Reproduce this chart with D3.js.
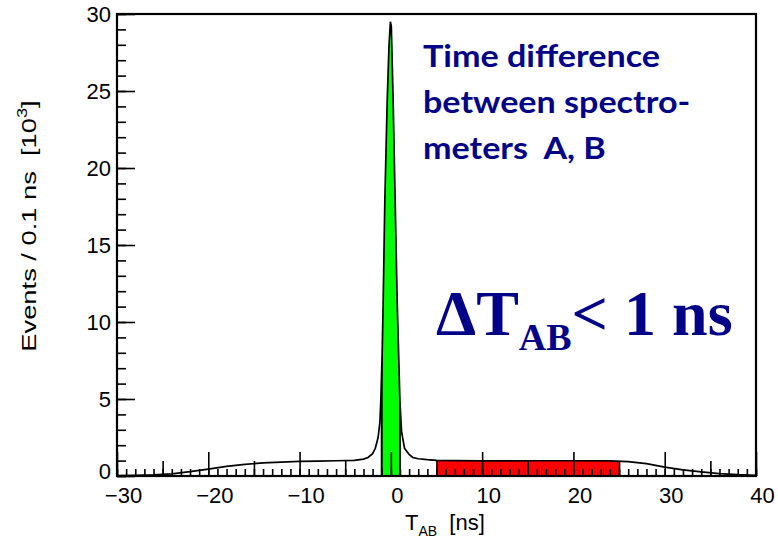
<!DOCTYPE html>
<html>
<head>
<meta charset="utf-8">
<script src="https://cdn.jsdelivr.net/npm/d3@7"></script>
<style>
  body { margin: 0; background: #fff; }
  text { font-family: "Liberation Sans", Arial, Helvetica, sans-serif; }
</style>
</head>
<body>
<div id="chart"></div>
<script>
// time difference T_AB [ns] and counts per 0.1 ns bin [10^3]
var tAB = [-30, -28, -26, -24, -22, -20, -18, -16, -14, -12, -10, -8, -6, -4, -3, -2.5, -2, -1.7, -1.4,
           -1.2, -1.1, -0.95, -0.84, -0.66, -0.4, -0.2, -0.05, 0.05, 0.25, 0.47, 0.69, 0.99, 1.17, 1.5,
           2, 2.4, 3, 4, 5, 7, 10, 13, 16, 20, 24, 26, 28, 30, 32, 34, 36, 38, 40];
var events = [0.02, 0.04, 0.07, 0.14, 0.28, 0.45, 0.62, 0.75, 0.85, 0.9, 0.95, 0.97, 0.99, 1.02, 1.1, 1.2, 1.45, 1.8, 2.5,
              3.5, 4.9, 8, 11.4, 17.9, 24.4, 28, 29.5, 29.2, 24.4, 17.9, 11.4, 4.9, 2.9, 1.8,
              1.4, 1.2, 1.12, 1.06, 1.02, 1.0, 0.98, 0.98, 0.99, 0.99, 0.98, 0.93, 0.8, 0.58, 0.4, 0.27, 0.16, 0.09, 0.05];

var greenRange = [-1, 1];   // |dT| < 1 ns
var redRange = [5, 25];     // side band

var xMajor = [-30, -20, -10, 0, 10, 20, 30, 40];
var yMajor = [0, 5, 10, 15, 20, 25, 30];

var W = 778, H = 543;
var margin = {top: 14, right: 22, bottom: 67, left: 117};

var svg = d3.select("#chart").append("svg")
    .attr("width", W)
    .attr("height", H);

var x = d3.scaleLinear().domain([-30, 40]).range([margin.left, W - margin.right]);
var y = d3.scaleLinear().domain([0, 30]).range([H - margin.bottom, margin.top]);

var pts = tAB.map(function(t, i) { return [t, events[i]]; });

var area = d3.area()
    .x(function(d) { return x(d[0]); })
    .y0(y(0))
    .y1(function(d) { return y(d[1]); });

var line = d3.line()
    .x(function(d) { return x(d[0]); })
    .y(function(d) { return y(d[1]); });

// clip = area under the histogram
svg.append("clipPath").attr("id", "under")
  .append("path").attr("d", area(pts));

var fills = svg.append("g").attr("clip-path", "url(#under)");

fills.append("rect")
    .attr("x", x(redRange[0]))
    .attr("width", x(redRange[1]) - x(redRange[0]))
    .attr("y", y(30))
    .attr("height", y(0) - y(30))
    .attr("fill", "#ff0000");

fills.append("rect")
    .attr("x", x(greenRange[0]))
    .attr("width", x(greenRange[1]) - x(greenRange[0]))
    .attr("y", y(30))
    .attr("height", y(0) - y(30) + 4)
    .attr("fill", "#00ff00")
    .attr("stroke", "#000")
    .attr("stroke-width", 2);

svg.append("path")
    .attr("d", line(pts))
    .attr("fill", "none")
    .attr("stroke", "#000")
    .attr("stroke-width", 1.7);

// axes: ticks drawn inward, ROOT style
function noDomain(g) { g.select(".domain").remove(); }

svg.append("g")
    .attr("transform", "translate(0," + y(0) + ")")
    .call(d3.axisBottom(x).tickValues(d3.range(-30, 41, 1)).tickSize(-7).tickFormat(""))
    .call(noDomain);
svg.append("g")
    .attr("transform", "translate(0," + y(0) + ")")
    .call(d3.axisBottom(x).tickValues(d3.range(-25, 40, 10)).tickSize(-15).tickFormat(""))
    .call(noDomain);
var gx = svg.append("g")
    .attr("transform", "translate(0," + y(0) + ")")
    .call(d3.axisBottom(x).tickValues(xMajor).tickSize(-24).tickPadding(0)
      .tickFormat(function(d) { return d < 0 ? "\u2212" + Math.abs(d) : d; }))
    .call(noDomain);
gx.selectAll("text")
    .attr("y", 27)
    .attr("dy", 0)
    .attr("dx", 6)
    .attr("font-size", 22)
    .attr("fill", "#000");

svg.append("g")
    .attr("transform", "translate(" + x(-30) + ",0)")
    .call(d3.axisLeft(y).tickValues(d3.range(0, 31, 1)).tickSize(-9).tickFormat(""))
    .call(noDomain);
var gy = svg.append("g")
    .attr("transform", "translate(" + x(-30) + ",0)")
    .call(d3.axisLeft(y).tickValues(yMajor).tickSize(-18).tickPadding(0))
    .call(noDomain);
gy.selectAll("text")
    .attr("x", -6)
    .attr("dy", function(d) { return d === 0 ? "0.1em" : "0.36em"; })
    .attr("font-size", 22)
    .attr("fill", "#000");

svg.selectAll(".tick line").attr("stroke", "#000").attr("stroke-width", 1.6);

// frame
svg.append("rect")
    .attr("x", x(-30))
    .attr("y", y(30))
    .attr("width", x(40) - x(-30))
    .attr("height", y(0) - y(30))
    .attr("fill", "none")
    .attr("stroke", "#000")
    .attr("stroke-width", 2.2);

// axis titles
var xt = svg.append("text")
    .attr("x", 405)
    .attr("y", 530)
    .attr("font-size", 22);
xt.append("tspan").text("T");
xt.append("tspan").attr("font-size", 14).attr("dy", 6).text("AB");
xt.append("tspan").attr("dy", -6).text("\u00a0 [ns]");

var yt = svg.append("text")
    .attr("transform", "translate(36,226) rotate(-90) scale(1.3,1)")
    .attr("text-anchor", "middle")
    .attr("font-size", 21);
yt.append("tspan").text("Events / 0.1 ns \u00a0[10");
yt.append("tspan").attr("font-size", 14).attr("dy", -9).text("3");
yt.append("tspan").attr("dy", 9).text("]");

// annotations
var note = svg.append("g")
    .attr("transform", "translate(423,0) scale(1.1,1)")
  .append("text")
    .style("font-family", "Lato, 'Open Sans', sans-serif")
    .style("font-weight", "bold")
    .style("font-size", "31px")
    .attr("fill", "#020288");
["Time difference", "between spectro-", "meters\u00a0 A, B"].forEach(function(s, i) {
  note.append("tspan").attr("x", 0).attr("y", 67 + i * 45.8).text(s);
});

var dt = svg.append("text")
    .attr("x", 436)
    .attr("y", 335)
    .style("font-family", "'Liberation Serif', 'Times New Roman', serif")
    .style("font-weight", "bold")
    .style("font-size", "64px")
    .attr("fill", "#020288");
dt.append("tspan").text("\u0394T");
dt.append("tspan").style("font-size", "38px").attr("dy", 15).text("AB");
dt.append("tspan").attr("dy", -15).text("< 1 ns");
</script>
</body>
</html>
